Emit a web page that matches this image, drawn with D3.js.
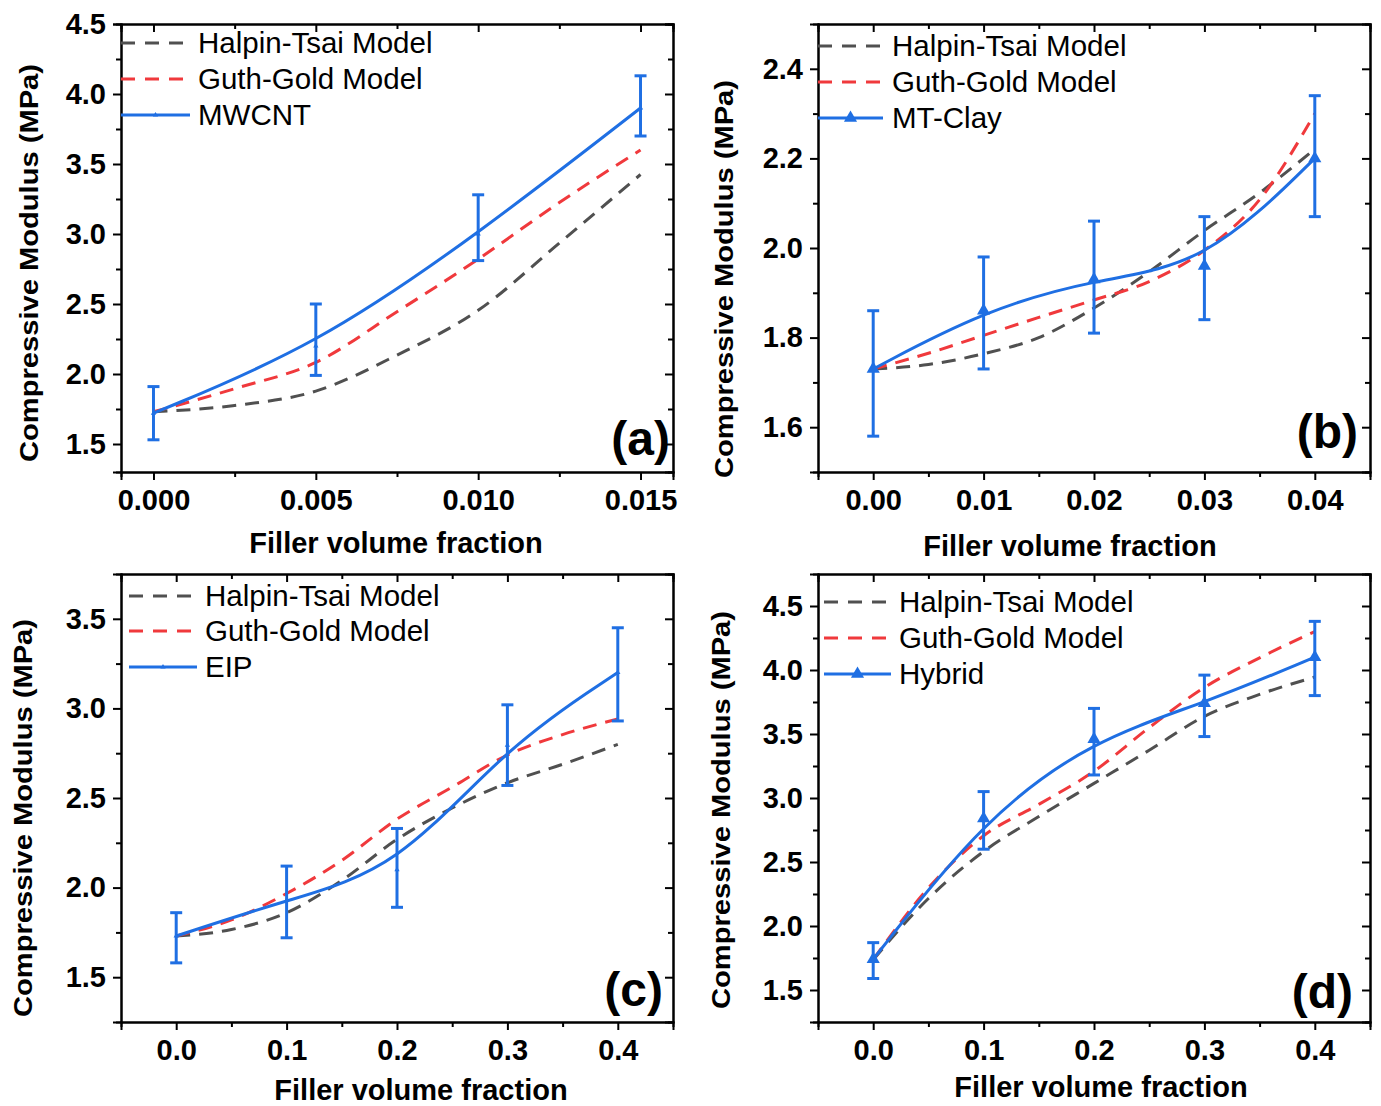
<!DOCTYPE html>
<html><head><meta charset="utf-8">
<script src="https://cdn.jsdelivr.net/npm/d3@7"></script>
<style>
body{margin:0;background:#fff}
svg{display:block}
text{font-family:"Liberation Sans",Arial,Helvetica,sans-serif;fill:#000}
</style>
</head><body>
<svg id="chart" width="1381" height="1106"></svg>
<script>
// ---------------- DATA ----------------
const legendNames = ["Halpin-Tsai Model", "Guth-Gold Model"];
const seriesNames = ["MWCNT", "MT-Clay", "EIP", "Hybrid"];
const panelLetters = ["(a)", "(b)", "(c)", "(d)"];
const xTitle = "Filler volume fraction";
const yTitle = "Compressive Modulus (MPa)";

// (a) MWCNT
const xA = [0, 0.005, 0.010, 0.015];
const yA = [1.72, 2.20, 3.00, 3.90];
const loA = [1.53, 1.99, 2.81, 3.70];
const hiA = [1.91, 2.50, 3.28, 4.13];
const xmA = [0, 0.0025, 0.005, 0.0075, 0.010, 0.0125, 0.015];
const htA = [1.73, 1.775, 1.878, 2.135, 2.455, 2.935, 3.425];
const ggA = [1.73, 1.895, 2.083, 2.445, 2.82, 3.225, 3.60];
const xTicksA = [0, 0.005, 0.010, 0.015];
const xMinorA = [0.0025, 0.0075, 0.0125];
const yTicksA = [1.5, 2.0, 2.5, 3.0, 3.5, 4.0, 4.5];
const yMinorA = [1.75, 2.25, 2.75, 3.25, 3.75, 4.25];

// (b) MT-Clay
const xB = [0, 0.01, 0.02, 0.03, 0.04];
const yB = [1.73, 1.86, 1.93, 1.96, 2.20];
const loB = [1.58, 1.73, 1.81, 1.84, 2.07];
const hiB = [1.86, 1.98, 2.06, 2.07, 2.34];
const xmB = [0, 0.005, 0.01, 0.015, 0.02, 0.025, 0.03, 0.035, 0.04];
const htB = [1.73, 1.740, 1.764, 1.800, 1.866, 1.947, 2.039, 2.123, 2.221];
const ggB = [1.73, 1.765, 1.805, 1.845, 1.884, 1.925, 1.995, 2.108, 2.300];
const xTicksB = [0, 0.01, 0.02, 0.03, 0.04];
const xMinorB = [0.005, 0.015, 0.025, 0.035];
const yTicksB = [1.6, 1.8, 2.0, 2.2, 2.4];
const yMinorB = [1.7, 1.9, 2.1, 2.3];

// (c) EIP
const xC = [0, 0.1, 0.2, 0.3, 0.4];
const yC = [1.73, 1.93, 2.10, 2.795, 3.20];
const loC = [1.58, 1.72, 1.89, 2.57, 2.93];
const hiC = [1.86, 2.12, 2.33, 3.02, 3.45];
const xmC = [0, 0.05, 0.1, 0.15, 0.2, 0.25, 0.3, 0.35, 0.4];
const htC = [1.73, 1.766, 1.86, 2.04, 2.269, 2.444, 2.585, 2.688, 2.799];
const ggC = [1.73, 1.82, 1.967, 2.152, 2.382, 2.561, 2.74, 2.854, 2.941];
const xTicksC = [0, 0.1, 0.2, 0.3, 0.4];
const xMinorC = [0.05, 0.15, 0.25, 0.35];
const yTicksC = [1.5, 2.0, 2.5, 3.0, 3.5];
const yMinorC = [1.75, 2.25, 2.75, 3.25];

// (d) Hybrid
const xD = [0, 0.1, 0.2, 0.3, 0.4];
const yD = [1.74, 2.84, 3.46, 3.74, 4.10];
const loD = [1.59, 2.60, 3.18, 3.48, 3.80];
const hiD = [1.87, 3.05, 3.70, 3.96, 4.38];
const xmD = [0, 0.05, 0.1, 0.15, 0.2, 0.25, 0.3, 0.35, 0.4];
const htD = [1.737, 2.215, 2.582, 2.855, 3.114, 3.373, 3.638, 3.809, 3.945];
const ggD = [1.737, 2.297, 2.705, 2.95, 3.209, 3.55, 3.864, 4.095, 4.30];
const xTicksD = [0, 0.1, 0.2, 0.3, 0.4];
const xMinorD = [0.05, 0.15, 0.25, 0.35];
const yTicksD = [1.5, 2.0, 2.5, 3.0, 3.5, 4.0, 4.5];
const yMinorD = [1.75, 2.25, 2.75, 3.25, 3.75, 4.25];

// ---------------- STYLE / LAYOUT ----------------
const BLUE = "#1f6fe3", RED = "#f0393c", GRAY = "#505050";
const FONT_TICK = 29, FONT_LEG = 29.5, FONT_XT = 29, FONT_YT = 25, FONT_LBL = 48;

const panels = [
  {left:121, top:24, w:552, h:448, xDom:[-0.001,0.016], yDom:[1.3,4.5],
   x:xA, y:yA, lo:loA, hi:hiA, xm:xmA, ht:htA, gg:ggA,
   xt:xTicksA, xmn:xMinorA, yt:yTicksA, ymn:yMinorA, xf:".3f", yf:".1f",
   name:seriesNames[0], letter:panelLetters[0], mk:12,
   leg:{x0:0, x1:69, tx:77, rows:[19,55,91]}, lbl:[670,455],
   xtl:[396,553], ytl:[38,263]},
  {left:818, top:24, w:552, h:448, xDom:[-0.005,0.045], yDom:[1.5,2.5],
   x:xB, y:yB, lo:loB, hi:hiB, xm:xmB, ht:htB, gg:ggB,
   xt:xTicksB, xmn:xMinorB, yt:yTicksB, ymn:yMinorB, xf:".2f", yf:".1f",
   name:seriesNames[1], letter:panelLetters[1], mk:75,
   leg:{x0:0, x1:65, tx:74, rows:[22,58,94]}, lbl:[1358,448],
   xtl:[1070,556], ytl:[733,279]},
  {left:121, top:574, w:552, h:448, xDom:[-0.05,0.45], yDom:[1.25,3.75],
   x:xC, y:yC, lo:loC, hi:hiC, xm:xmC, ht:htC, gg:ggC,
   xt:xTicksC, xmn:xMinorC, yt:yTicksC, ymn:yMinorC, xf:".1f", yf:".1f",
   name:seriesNames[2], letter:panelLetters[2], mk:12,
   leg:{x0:8, x1:76, tx:84, rows:[22,57,93]}, lbl:[663,1006],
   xtl:[421,1100], ytl:[32,818]},
  {left:818, top:574, w:552, h:448, xDom:[-0.05,0.45], yDom:[1.25,4.75],
   x:xD, y:yD, lo:loD, hi:hiD, xm:xmD, ht:htD, gg:ggD,
   xt:xTicksD, xmn:xMinorD, yt:yTicksD, ymn:yMinorD, xf:".1f", yf:".1f",
   name:seriesNames[3], letter:panelLetters[3], mk:75,
   leg:{x0:6, x1:73, tx:81, rows:[28,64,100]}, lbl:[1353,1008],
   xtl:[1101,1097], ytl:[730,810]}
];

const svg = d3.select("#chart");

function styleAxis(g){
  g.select(".domain").attr("stroke","#000").attr("stroke-width",2);
  g.selectAll(".tick line").attr("stroke","#000").attr("stroke-width",2);
  g.selectAll("text").attr("font-size",FONT_TICK).attr("font-weight","bold")
    .attr("font-family","'Liberation Sans',Arial,sans-serif").attr("fill","#000");
}

panels.forEach(p => {
  const g = svg.append("g").attr("transform",`translate(${p.left},${p.top})`);
  const x = d3.scaleLinear().domain(p.xDom).range([0,p.w]);
  const y = d3.scaleLinear().domain(p.yDom).range([p.h,0]);

  // major axes
  g.append("g").attr("transform",`translate(0,${p.h})`)
    .call(d3.axisBottom(x).tickValues(p.xt).tickFormat(d3.format(p.xf)).tickSize(8).tickPadding(9))
    .call(styleAxis);
  g.append("g")
    .call(d3.axisLeft(y).tickValues(p.yt).tickFormat(d3.format(p.yf)).tickSize(8).tickPadding(7))
    .call(styleAxis);
  g.append("g")
    .call(d3.axisTop(x).tickValues(p.xt).tickFormat("").tickSize(-8))
    .call(styleAxis);
  g.append("g").attr("transform",`translate(${p.w},0)`)
    .call(d3.axisRight(y).tickValues(p.yt).tickFormat("").tickSize(-8))
    .call(styleAxis);
  // minor ticks
  g.append("g").attr("transform",`translate(0,${p.h})`)
    .call(d3.axisBottom(x).tickValues(p.xmn).tickFormat("").tickSize(5)).call(styleAxis);
  g.append("g").call(d3.axisLeft(y).tickValues(p.ymn).tickFormat("").tickSize(5)).call(styleAxis);
  g.append("g").call(d3.axisTop(x).tickValues(p.xmn).tickFormat("").tickSize(-5)).call(styleAxis);
  g.append("g").attr("transform",`translate(${p.w},0)`)
    .call(d3.axisRight(y).tickValues(p.ymn).tickFormat("").tickSize(-5)).call(styleAxis);

  // model curves
  const modelLine = d3.line().x(d=>x(d[0])).y(d=>y(d[1])).curve(d3.curveMonotoneX);
  g.append("path").attr("d", modelLine(d3.zip(p.xm, p.ht)))
    .attr("fill","none").attr("stroke",GRAY).attr("stroke-width",3).attr("stroke-dasharray","14,9");
  g.append("path").attr("d", modelLine(d3.zip(p.xm, p.gg)))
    .attr("fill","none").attr("stroke",RED).attr("stroke-width",3).attr("stroke-dasharray","14,9");

  // experimental B-spline
  const dataLine = d3.line().x(d=>x(d[0])).y(d=>y(d[1])).curve(d3.curveBasis);
  g.append("path").attr("d", dataLine(d3.zip(p.x, p.y)))
    .attr("fill","none").attr("stroke",BLUE).attr("stroke-width",3);

  // error bars
  const eb = g.append("g").attr("stroke",BLUE).attr("stroke-width",3);
  p.x.forEach((xv,i) => {
    const cx = x(xv);
    eb.append("line").attr("x1",cx).attr("x2",cx).attr("y1",y(p.lo[i])).attr("y2",y(p.hi[i]));
    eb.append("line").attr("x1",cx-6).attr("x2",cx+6).attr("y1",y(p.lo[i])).attr("y2",y(p.lo[i]));
    eb.append("line").attr("x1",cx-6).attr("x2",cx+6).attr("y1",y(p.hi[i])).attr("y2",y(p.hi[i]));
  });
  // markers
  const tri = d3.symbol().type(d3.symbolTriangle).size(p.mk);
  p.x.forEach((xv,i) => {
    g.append("path").attr("d",tri()).attr("fill",BLUE)
      .attr("transform",`translate(${x(xv)},${y(p.y[i])})`);
  });

  // legend
  const L = p.leg;
  const items = [
    {name:legendNames[0], color:GRAY, dash:"14,10"},
    {name:legendNames[1], color:RED, dash:"14,10"},
    {name:p.name, color:BLUE, dash:null}
  ];
  items.forEach((it,i) => {
    const ry = L.rows[i];
    const ln = g.append("line").attr("x1",L.x0).attr("x2",L.x1).attr("y1",ry).attr("y2",ry)
      .attr("stroke",it.color).attr("stroke-width",3);
    if (it.dash) ln.attr("stroke-dasharray",it.dash);
    else {
      g.append("path").attr("d",tri()).attr("fill",BLUE)
        .attr("transform",`translate(${(L.x0+L.x1)/2},${ry})`);
    }
    g.append("text").attr("x",L.tx).attr("y",ry+10).attr("font-size",FONT_LEG).text(it.name);
  });

  // panel letter
  svg.append("text").attr("x",p.lbl[0]).attr("y",p.lbl[1]).attr("text-anchor","end")
    .attr("font-size",FONT_LBL).attr("font-weight","bold").text(p.letter);

  // axis titles
  svg.append("text").attr("x",p.xtl[0]).attr("y",p.xtl[1]).attr("text-anchor","middle")
    .attr("font-size",FONT_XT).attr("font-weight","bold").text(xTitle);
  svg.append("text").attr("transform",`translate(${p.ytl[0]},${p.ytl[1]}) rotate(-90)`)
    .attr("text-anchor","middle").attr("font-size",FONT_YT).attr("font-weight","bold")
    .attr("textLength",398).attr("lengthAdjust","spacingAndGlyphs").text(yTitle);
});
</script>
</body></html>
